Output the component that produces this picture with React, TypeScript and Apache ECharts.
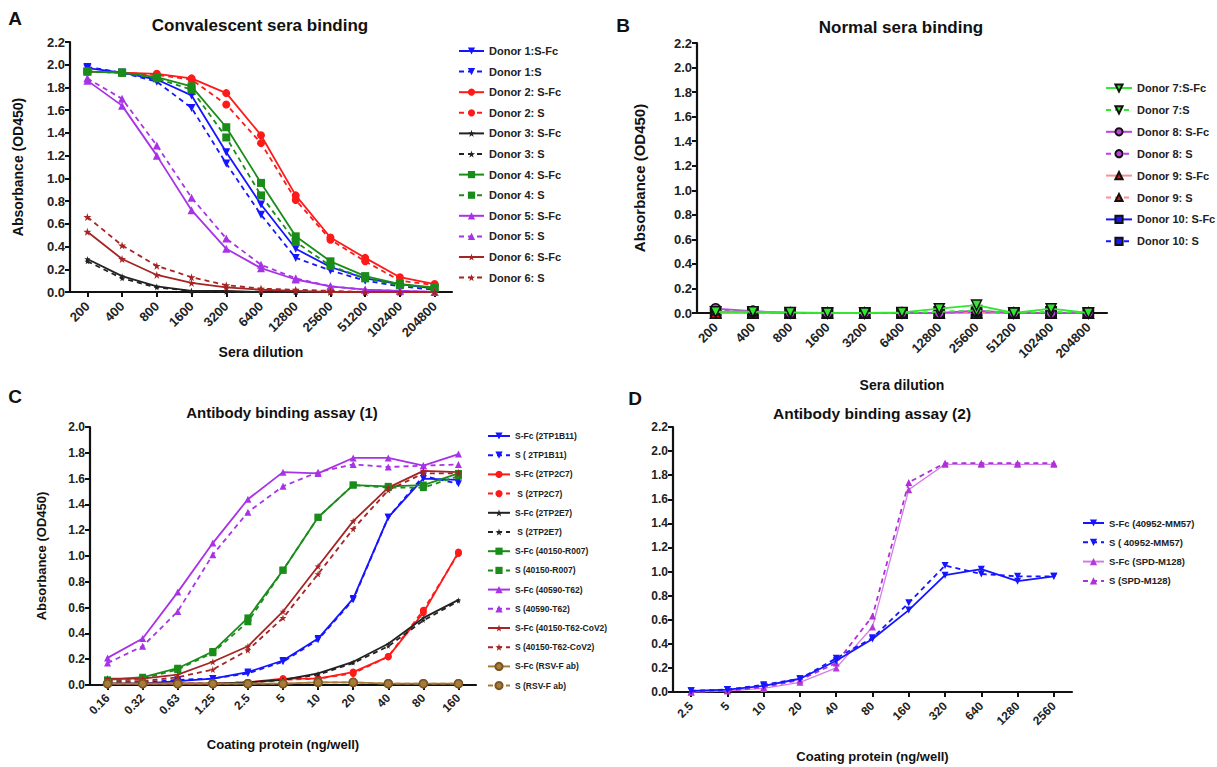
import React, { useEffect, useRef } from "react";
import * as echarts from "echarts";

// ---------- categories / tick labels ----------
const dilutions = ["200", "400", "800", "1600", "3200", "6400", "12800", "25600", "51200", "102400", "204800"];
const coatingC = ["0.16", "0.32", "0.63", "1.25", "2.5", "5", "10", "20", "40", "80", "160"];
const coatingD = ["2.5", "5", "10", "20", "40", "80", "160", "320", "640", "1280", "2560"];

// ---------- Panel A: convalescent sera ----------
const d1SFc = [1.97, 1.93, 1.87, 1.73, 1.23, 0.77, 0.38, 0.22, 0.12, 0.07, 0.03];
const d1S = [1.98, 1.93, 1.85, 1.62, 1.13, 0.68, 0.3, 0.19, 0.1, 0.05, 0.02];
const d2SFc = [1.94, 1.93, 1.92, 1.88, 1.75, 1.38, 0.85, 0.48, 0.3, 0.13, 0.07];
const d2S = [1.94, 1.93, 1.91, 1.87, 1.65, 1.31, 0.81, 0.46, 0.27, 0.1, 0.06];
const d3SFc = [0.29, 0.14, 0.05, 0.01, 0.01, 0.0, 0.0, 0.0, 0.0, 0.0, 0.0];
const d3S = [0.27, 0.12, 0.04, 0.01, 0.0, 0.0, 0.0, 0.0, 0.0, 0.0, 0.0];
const d4SFc = [1.94, 1.93, 1.89, 1.81, 1.45, 0.96, 0.49, 0.27, 0.14, 0.07, 0.04];
const d4S = [1.94, 1.93, 1.88, 1.78, 1.36, 0.85, 0.44, 0.23, 0.12, 0.06, 0.03];
const d5SFc = [1.86, 1.64, 1.2, 0.72, 0.38, 0.21, 0.11, 0.05, 0.02, 0.01, 0.0];
const d5S = [1.88, 1.7, 1.29, 0.83, 0.47, 0.24, 0.12, 0.05, 0.02, 0.01, 0.0];
const d6SFc = [0.53, 0.29, 0.15, 0.08, 0.04, 0.02, 0.01, 0.0, 0.0, 0.0, 0.0];
const d6S = [0.66, 0.41, 0.23, 0.13, 0.06, 0.03, 0.02, 0.01, 0.0, 0.0, 0.0];

// ---------- Panel B: normal sera ----------
const d7SFc = [0.01, 0.01, 0.005, 0.0, 0.0, 0.005, 0.035, 0.065, 0.0, 0.035, 0.0];
const d7S = [0.01, 0.005, 0.0, 0.0, 0.0, 0.0, 0.01, 0.02, 0.0, 0.01, 0.0];
const d8SFc = [0.035, 0.015, 0.0, 0.0, 0.0, 0.0, 0.0, 0.02, 0.0, 0.0, 0.0];
const d8S = [0.02, 0.01, 0.0, 0.0, 0.0, 0.0, 0.0, 0.01, 0.0, 0.0, 0.0];
const d9SFc = [0.0, 0.0, 0.0, 0.0, 0.0, 0.0, 0.0, 0.0, 0.0, 0.0, 0.0];
const d9S = [0.0, 0.0, 0.0, 0.0, 0.0, 0.0, 0.0, 0.0, 0.0, 0.0, 0.0];
const d10SFc = [0.0, 0.0, 0.0, 0.0, 0.0, 0.0, 0.0, 0.0, 0.0, 0.0, 0.0];
const d10S = [0.0, 0.0, 0.0, 0.0, 0.0, 0.0, 0.0, 0.0, 0.0, 0.0, 0.0];

// ---------- Panel C: antibody binding (1) ----------
const b11SFc = [0.01, 0.01, 0.03, 0.05, 0.1, 0.19, 0.36, 0.67, 1.3, 1.6, 1.59];
const b11S = [0.02, 0.02, 0.04, 0.05, 0.09, 0.18, 0.35, 0.66, 1.3, 1.62, 1.56];
const c7SFc = [0.01, 0.01, 0.01, 0.01, 0.02, 0.05, 0.05, 0.1, 0.22, 0.56, 1.03];
const c7S = [0.01, 0.01, 0.01, 0.01, 0.02, 0.04, 0.05, 0.09, 0.22, 0.58, 1.02];
const e7SFc = [0.01, 0.01, 0.01, 0.01, 0.02, 0.04, 0.09, 0.18, 0.32, 0.52, 0.66];
const e7S = [0.01, 0.01, 0.01, 0.01, 0.02, 0.04, 0.08, 0.17, 0.3, 0.5, 0.65];
const r007SFc = [0.04, 0.06, 0.13, 0.26, 0.52, 0.89, 1.3, 1.55, 1.54, 1.55, 1.64];
const r007S = [0.03, 0.05, 0.12, 0.25, 0.49, 0.89, 1.3, 1.55, 1.53, 1.53, 1.62];
const t62SFc = [0.21, 0.36, 0.72, 1.1, 1.44, 1.65, 1.64, 1.76, 1.76, 1.7, 1.79];
const t62S = [0.17, 0.3, 0.57, 1.01, 1.34, 1.54, 1.65, 1.71, 1.69, 1.7, 1.71];
const cov2SFc = [0.05, 0.05, 0.08, 0.18, 0.3, 0.57, 0.92, 1.27, 1.53, 1.66, 1.65];
const cov2S = [0.03, 0.03, 0.06, 0.12, 0.27, 0.52, 0.86, 1.21, 1.51, 1.64, 1.64];
const rsvSFc = [0.01, 0.01, 0.01, 0.01, 0.01, 0.01, 0.02, 0.02, 0.01, 0.01, 0.01];
const rsvS = [0.01, 0.01, 0.01, 0.01, 0.01, 0.01, 0.02, 0.02, 0.01, 0.01, 0.01];

// ---------- Panel D: antibody binding (2) ----------
const mm57SFc = [0.01, 0.02, 0.05, 0.11, 0.26, 0.44, 0.68, 0.97, 1.02, 0.92, 0.96];
const mm57S = [0.01, 0.02, 0.06, 0.11, 0.28, 0.45, 0.74, 1.05, 0.98, 0.96, 0.96];
const m128SFc = [0.0, 0.01, 0.03, 0.08, 0.2, 0.54, 1.68, 1.89, 1.89, 1.89, 1.89];
const m128S = [0.0, 0.01, 0.04, 0.1, 0.24, 0.63, 1.74, 1.9, 1.9, 1.9, 1.9];

// ---------- styling ----------
const FONT = 'Arial, "Liberation Sans", Helvetica, sans-serif';
const BLUE = "#1515ff";
const RED = "#ff1a1a";
const BLACK = "#222222";
const GREEN = "#1a8c1a";
const PURPLE = "#a833e6";
const DARKRED = "#a52424";
const BROWN = "#a67c3c";
const LGREEN = "#33e633";
const LRED = "#ff8f8f";

const DOWN_TRI = "path://M0,0L10,0L5,9Z";
const STAR = "path://M50,0L61,35L98,35L68,57L79,91L50,70L21,91L32,57L2,35L39,35Z";

function mk(
  name: string,
  data: number[],
  color: string,
  symbol: string,
  size: number,
  dashed: boolean,
  idx: number,
  extra: any = {}
) {
  return {
    type: "line",
    name,
    data,
    xAxisIndex: idx,
    yAxisIndex: idx,
    symbol,
    symbolSize: size,
    showSymbol: true,
    lineStyle: { color: extra.lineColor || color, width: extra.lineWidth || 1.8, type: dashed ? [5, 4] : "solid" },
    itemStyle: {
      color,
      borderColor: extra.border || color,
      borderWidth: extra.border ? 1.5 : 0,
    },
    z: extra.z || 2,
    emphasis: { disabled: true },
  };
}

function xAxis(idx: number, cats: string[], name: string, gap: number, nameSize: number, labelSize: number, margin: number) {
  return {
    type: "category",
    gridIndex: idx,
    data: cats,
    boundaryGap: true,
    name,
    nameLocation: "middle",
    nameGap: gap,
    nameTextStyle: { fontFamily: FONT, fontWeight: "bold", fontSize: nameSize, color: "#111", verticalAlign: "top" },
    axisLine: { show: true, onZero: true, lineStyle: { color: "#111", width: 2.2 } },
    axisTick: { show: true, alignWithLabel: true, length: 5, lineStyle: { color: "#111", width: 2 } },
    axisLabel: {
      interval: 0,
      rotate: 45,
      margin,
      fontFamily: FONT,
      fontWeight: "bold",
      fontSize: labelSize,
      color: "#222",
    },
    splitLine: { show: false },
  };
}

function yAxis(idx: number, max: number, name: string, gap: number, nameSize: number, labelSize: number) {
  return {
    type: "value",
    gridIndex: idx,
    min: 0,
    max,
    interval: 0.2,
    name,
    nameLocation: "middle",
    nameGap: gap,
    nameRotate: 90,
    nameTextStyle: { fontFamily: FONT, fontWeight: "bold", fontSize: nameSize, color: "#111" },
    axisLine: { show: true, lineStyle: { color: "#111", width: 2.2 } },
    axisTick: { show: true, length: 5, lineStyle: { color: "#111", width: 2 } },
    axisLabel: {
      fontFamily: FONT,
      fontWeight: "bold",
      fontSize: labelSize,
      color: "#222",
      margin: 5,
      formatter: (v: number) => v.toFixed(1),
    },
    splitLine: { show: false },
  };
}

function legend(names: string[], left: number, top: number, gap: number, fontSize: number, itemWidth: number) {
  return {
    data: names,
    orient: "vertical",
    left,
    top,
    padding: 0,
    itemWidth,
    itemHeight: 9,
    itemGap: gap,
    selectedMode: false,
    textStyle: { fontFamily: FONT, fontWeight: "bold", fontSize, color: "#222", lineHeight: 12 },
  };
}

function titleText(text: string, x: number, y: number, size: number) {
  return {
    type: "text",
    x,
    y,
    style: {
      text,
      fill: "#111",
      fontFamily: FONT,
      fontWeight: "bold",
      fontSize: size,
      textAlign: "center",
      textVerticalAlign: "middle",
      verticalAlign: "middle",
    },
  };
}

export default function App() {
  const ref = useRef<HTMLDivElement>(null);
  useEffect(() => {
    if (!ref.current) return;
    const chart = echarts.init(ref.current, undefined, { renderer: "svg" });

    const seriesA = [
      mk("Donor 1:S-Fc", d1SFc, BLUE, DOWN_TRI, 8, false, 0),
      mk("Donor 1:S", d1S, BLUE, DOWN_TRI, 8, true, 0),
      mk("Donor 2: S-Fc", d2SFc, RED, "circle", 8, false, 0),
      mk("Donor 2: S", d2S, RED, "circle", 8, true, 0),
      mk("Donor 3: S-Fc", d3SFc, BLACK, STAR, 6, false, 0),
      mk("Donor 3: S", d3S, BLACK, STAR, 6, true, 0),
      mk("Donor 4: S-Fc", d4SFc, GREEN, "rect", 8, false, 0),
      mk("Donor 4: S", d4S, GREEN, "rect", 8, true, 0),
      mk("Donor 5: S-Fc", d5SFc, PURPLE, "triangle", 8, false, 0),
      mk("Donor 5: S", d5S, PURPLE, "triangle", 8, true, 0),
      mk("Donor 6: S-Fc", d6SFc, DARKRED, STAR, 8, false, 0),
      mk("Donor 6: S", d6S, DARKRED, STAR, 8, true, 0),
    ];
    const seriesB = [
      mk("Donor 7:S-Fc", d7SFc, LGREEN, DOWN_TRI, 10, false, 1, { border: "#111", z: 8 }),
      mk("Donor 7:S", d7S, LGREEN, DOWN_TRI, 10, true, 1, { border: "#111", z: 7 }),
      mk("Donor 8: S-Fc", d8SFc, "#c040e0", "circle", 10, false, 1, { border: "#111", z: 6 }),
      mk("Donor 8: S", d8S, "#c040e0", "circle", 10, true, 1, { border: "#111", z: 5 }),
      mk("Donor 9: S-Fc", d9SFc, "#e01010", "triangle", 10, false, 1, { border: "#111", lineColor: LRED, z: 4 }),
      mk("Donor 9: S", d9S, "#e01010", "triangle", 10, true, 1, { border: "#111", lineColor: LRED, z: 3 }),
      mk("Donor 10: S-Fc", d10SFc, BLUE, "rect", 10, false, 1, { border: "#111", z: 2 }),
      mk("Donor 10: S", d10S, BLUE, "rect", 10, true, 1, { border: "#111", z: 1 }),
    ];
    const seriesC = [
      mk("S-Fc (2TP1B11)", b11SFc, BLUE, DOWN_TRI, 7, false, 2),
      mk("S ( 2TP1B11)", b11S, BLUE, DOWN_TRI, 7, true, 2),
      mk("S-Fc (2TP2C7)", c7SFc, RED, "circle", 7, false, 2),
      mk(" S (2TP2C7)", c7S, RED, "circle", 7, true, 2),
      mk("S-Fc (2TP2E7)", e7SFc, BLACK, STAR, 5, false, 2),
      mk(" S (2TP2E7)", e7S, BLACK, STAR, 5, true, 2),
      mk("S-Fc (40150-R007)", r007SFc, GREEN, "rect", 7, false, 2),
      mk("S (40150-R007)", r007S, GREEN, "rect", 7, true, 2),
      mk("S-Fc (40590-T62)", t62SFc, PURPLE, "triangle", 7, false, 2),
      mk("S (40590-T62)", t62S, PURPLE, "triangle", 7, true, 2),
      mk("S-Fc (40150-T62-CoV2)", cov2SFc, DARKRED, STAR, 7, false, 2),
      mk("S (40150-T62-CoV2)", cov2S, DARKRED, STAR, 7, true, 2),
      mk("S-Fc (RSV-F ab)", rsvSFc, BROWN, "circle", 8, false, 2, { border: "#7a5520" }),
      mk("S (RSV-F ab)", rsvS, BROWN, "circle", 8, true, 2, { border: "#7a5520" }),
    ];
    const seriesD = [
      mk("S-Fc (40952-MM57)", mm57SFc, BLUE, DOWN_TRI, 7, false, 3, { z: 4 }),
      mk("S ( 40952-MM57)", mm57S, BLUE, DOWN_TRI, 7, true, 3, { z: 3 }),
      mk("S-Fc (SPD-M128)", m128SFc, "#b43ad8", "triangle", 7, false, 3, { lineColor: "#d27ee8", lineWidth: 1.3 }),
      mk("S (SPD-M128)", m128S, "#b030d8", "triangle", 7, true, 3),
    ];

    const option: any = {
      animation: false,
      backgroundColor: "#ffffff",
      grid: [
        { left: 70, top: 42, width: 382, height: 250 },
        { left: 697, top: 43, width: 410, height: 270 },
        { left: 90, top: 427, width: 386, height: 258 },
        { left: 673, top: 427, width: 399, height: 265 },
      ],
      xAxis: [
        xAxis(0, dilutions, "Sera dilution", 53, 14, 13, 12),
        xAxis(1, dilutions, "Sera dilution", 65, 14, 13, 12),
        xAxis(2, coatingC, "Coating protein (ng/well)", 53, 13, 12, 11),
        xAxis(3, coatingD, "Coating protein (ng/well)", 58, 13, 12, 12),
      ],
      yAxis: [
        yAxis(0, 2.2, "Absorbance (OD450)", 45, 14, 13),
        yAxis(1, 2.2, "Absorbance (OD450)", 50, 15, 13),
        yAxis(2, 2.0, "Absorbance (OD450)", 42, 13, 12),
        yAxis(3, 2.2, "", 40, 13, 12),
      ],
      legend: [
        legend(seriesA.map((s) => s.name), 458, 45, 8.6, 11, 25),
        legend(seriesB.map((s) => s.name), 1105, 82, 9.9, 11, 26),
        legend(seriesC.map((s) => s.name), 487, 430, 7.2, 8.5, 22),
        legend(seriesD.map((s) => s.name), 1082, 517, 7.3, 9.5, 21),
      ],
      graphic: [
        titleText("A", 15, 18, 19),
        titleText("B", 623, 25, 19),
        titleText("C", 15, 396, 19),
        titleText("D", 635, 398, 19),
        titleText("Convalescent sera binding", 260, 25, 17),
        titleText("Normal sera binding", 901, 27, 17),
        titleText("Antibody binding assay (1)", 282, 412, 15),
        titleText("Antibody binding assay (2)", 872, 413, 15.5),
      ],
      series: [...seriesA, ...seriesB, ...seriesC, ...seriesD],
    };
    chart.setOption(option);
    return () => chart.dispose();
  }, []);

  return (
    <div
      ref={ref}
      style={{ position: "absolute", left: 0, top: 0, width: 1217, height: 767, background: "#ffffff" }}
    />
  );
}
